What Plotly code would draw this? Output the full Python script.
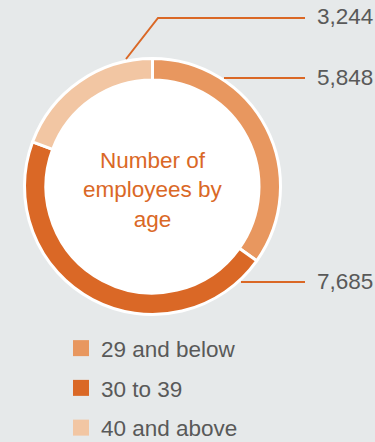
import plotly.graph_objects as go

# ---- data ----
categories = ["29 and below", "30 to 39", "40 and above"]
values = [5848, 7685, 3244]
center_title = ["Number of", "employees by", "age"]

# ---- style ----
colors = ["#E8975F", "#DA6826", "#F2C6A3"]
BG = "#E6E9EA"
TEXT = "#595959"
ACCENT = "#DA6826"
FONT = "Liberation Sans, Arial, sans-serif"
FS = 22.5
W, H = 375, 442
CX, CY, R = 152.5, 186.5, 128  # pie centre / radius in px

def px(x):
    return x / W

def py(y):
    return 1 - y / H

fig = go.Figure()
fig.add_trace(go.Pie(
    labels=categories, values=values, sort=False, direction="clockwise",
    rotation=0, hole=0.832, textinfo="none", showlegend=False,
    marker=dict(colors=colors, line=dict(color="white", width=3)),
    domain=dict(x=[px(CX - R), px(CX + R)], y=[py(CY + R), py(CY - R)]),
))

# legend entries (square markers)
for cat, col in zip(categories, colors):
    fig.add_trace(go.Scatter(
        x=[None], y=[None], mode="markers", name=cat, legendgroup=cat,
        marker=dict(symbol="square", size=16, color=col),
    ))

# leader lines (paths in px) and labels, keyed by category index
leaders = {
    2: [(126, 59), (158, 18), (305, 18)],
    0: [(224, 78), (305, 78)],
    1: [(241, 282), (305, 282)],
}
shapes = [dict(type="circle", xref="paper", yref="paper", layer="below",
               x0=px(CX - 110), x1=px(CX + 110), y0=py(CY + 110), y1=py(CY - 110),
               fillcolor="white", line=dict(width=0))]
annotations = []
for i, pts in leaders.items():
    path = "M " + " L ".join(f"{px(x)},{py(y)}" for x, y in pts)
    shapes.append(dict(type="path", xref="paper", yref="paper", path=path,
                       line=dict(color=ACCENT, width=2)))
    lx, ly = pts[-1]
    annotations.append(dict(
        x=px(lx + 10), y=py(ly - 1), xref="paper", yref="paper", xanchor="left",
        yanchor="middle", showarrow=False, text=f"{values[i]:,}",
        font=dict(family=FONT, size=FS, color=TEXT)))

annotations.append(dict(
    x=px(CX), y=py(190), xref="paper", yref="paper", xanchor="center",
    yanchor="middle", showarrow=False, text="<br>".join(center_title),
    font=dict(family=FONT, size=FS, color=ACCENT)))

fig.update_layout(
    width=W, height=H, margin=dict(l=0, r=0, t=0, b=0, autoexpand=False),
    paper_bgcolor=BG, plot_bgcolor="rgba(0,0,0,0)",
    xaxis=dict(visible=False, domain=[0, 0.01]),
    yaxis=dict(visible=False, domain=[0, 0.01]),
    shapes=shapes, annotations=annotations,
    legend=dict(x=px(61), y=py(327), xanchor="left", yanchor="top",
                bgcolor="rgba(0,0,0,0)", traceorder="grouped", tracegroupgap=7.5,
                font=dict(family=FONT, size=FS, color=TEXT)),
    showlegend=True,
)

fig.write_html("out.html")
